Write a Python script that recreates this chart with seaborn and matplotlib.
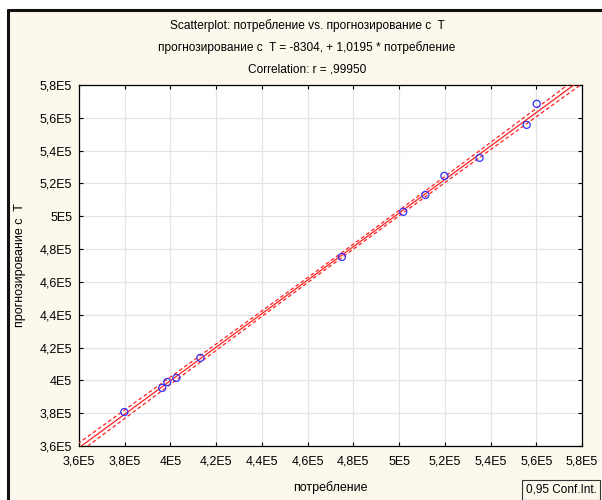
import numpy as np
import pandas as pd
import matplotlib
matplotlib.use("Agg")
import matplotlib.pyplot as plt
import seaborn as sns
from matplotlib.patches import Rectangle

# data
consumption = [379800, 396400, 398600, 402600, 413100, 475000, 501800,
               511500, 519800, 535200, 555800, 560200]
forecast_T = [380700, 395400, 399000, 401500, 413700, 475200, 502700,
              513000, 524600, 535600, 555700, 568500]
tick_values = [360000, 380000, 400000, 420000, 440000, 460000, 480000,
               500000, 520000, 540000, 560000, 580000]
tick_labels = ["3,6E5", "3,8E5", "4E5", "4,2E5", "4,4E5", "4,6E5", "4,8E5",
               "5E5", "5,2E5", "5,4E5", "5,6E5", "5,8E5"]
title_lines = ["Scatterplot: потребление vs. прогнозирование с  T",
               "прогнозирование с  T = -8304, + 1,0195 * потребление",
               "Correlation: r = ,99950"]
x_label = "потребление"
y_label = "прогнозирование с  T"
ci_label = "0,95 Conf.Int."

df = pd.DataFrame({"x": consumption, "y": forecast_T})

sns.set_theme(style="white")
plt.rcParams["font.family"] = ["Liberation Sans", "DejaVu Sans"]

cream = "#fdf8ec"
fig = plt.figure(figsize=(6.02, 5.0), dpi=100, facecolor="white")
fig.patches.append(Rectangle((9/602, 0), 1, 1 - 11/500, transform=fig.transFigure,
                             facecolor=cream, edgecolor="none", zorder=-10))
# black frame top and left
fig.add_artist(plt.Line2D([8/602, 1], [1 - 10/500, 1 - 10/500], transform=fig.transFigure,
                          color="#111111", lw=2.2))
fig.add_artist(plt.Line2D([8/602, 8/602], [0, 1 - 10/500], transform=fig.transFigure,
                          color="#111111", lw=2.2))

ax = fig.add_axes([79/602, 1 - 446/500, (582 - 79)/602, (446 - 85)/500])
ax.set_facecolor("white")

xmin, xmax = 360000, 580000
# regression and confidence band
x = np.asarray(consumption, float)
y = np.asarray(forecast_T, float)
n = len(x)
b1, b0 = np.polyfit(x, y, 1)
resid = y - (b0 + b1 * x)
s = np.sqrt(np.sum(resid**2) / (n - 2))
xs = np.linspace(xmin - 5000, xmax + 5000, 200)
t = 2.228
se = s * np.sqrt(1/n + (xs - x.mean())**2 / np.sum((x - x.mean())**2))
yhat = b0 + b1 * xs
band = pd.DataFrame({"x": xs, "fit": yhat, "lo": yhat - t*se, "hi": yhat + t*se})

sns.lineplot(data=band, x="x", y="fit", ax=ax, color="#ff2020", lw=0.9, zorder=3)
sns.lineplot(data=band, x="x", y="lo", ax=ax, color="#ff2020", lw=0.9, ls=(0, (3, 2)), zorder=3)
sns.lineplot(data=band, x="x", y="hi", ax=ax, color="#ff2020", lw=0.9, ls=(0, (3, 2)), zorder=3)
sns.scatterplot(data=df, x="x", y="y", ax=ax, marker="o", s=26,
                facecolors="none", edgecolor="#3333ff", linewidth=0.9, zorder=4)

ax.set_xlim(xmin, xmax)
ax.set_ylim(xmin, xmax)
ax.set_xticks(tick_values)
ax.set_xticklabels(tick_labels)
ax.set_yticks(tick_values)
ax.set_yticklabels(tick_labels)
ax.grid(True, color="#e4e4e4", lw=0.9)
ax.set_axisbelow(True)
ax.tick_params(axis="both", which="both", direction="in", length=3, width=0.8,
               color="black", labelsize=9, labelcolor="black",
               top=True, right=True, bottom=True, left=True, pad=5)
ax.tick_params(axis="x", pad=7)
for sp in ax.spines.values():
    sp.set_visible(True)
    sp.set_color("black")
    sp.set_linewidth(0.9)

ax.set_xlabel(x_label, fontsize=9, color="black")
ax.set_ylabel(y_label, fontsize=9, color="black")
ax.xaxis.set_label_coords(0.5, -0.115)
ax.yaxis.set_label_coords(-0.117, 0.5)
ax.yaxis.label.set_va("center")
ax.xaxis.label.set_va("center")

for i, line in enumerate(title_lines):
    fig.text(0.51, 1 - (26 + 21.5*i)/500, line, ha="center", va="center",
             fontsize=8.6, color="black")

fig.text(526/602, 1 - 490/500, ci_label, ha="left", va="center", fontsize=8.5,
         color="black",
         bbox=dict(boxstyle="square,pad=0.3", facecolor=cream, edgecolor="#333333", lw=0.8))

fig.savefig("out.png", dpi=100, facecolor=fig.get_facecolor())
